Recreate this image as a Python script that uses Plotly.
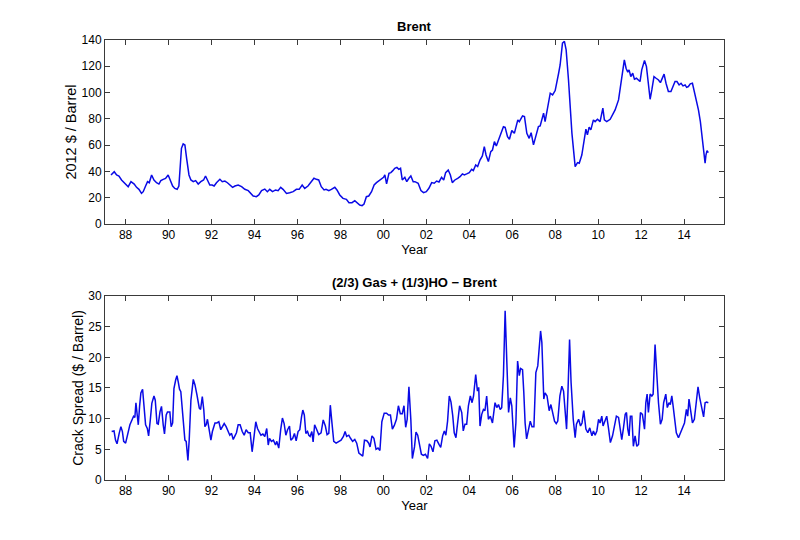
import plotly.graph_objects as go

# ---- Brent (2012 $ / Barrel), vertices (decimal year, value)
brent_year = [
    1987.32, 1987.47, 1987.58, 1987.69, 1987.81, 1987.94, 1988.12, 1988.25, 1988.40, 1988.51,
    1988.62, 1988.74, 1988.82, 1988.93, 1989.02, 1989.10, 1989.21, 1989.32, 1989.44, 1989.55,
    1989.64, 1989.75, 1989.86, 1989.98, 1990.08, 1990.19, 1990.29, 1990.40, 1990.48, 1990.60,
    1990.68, 1990.76, 1990.84, 1990.95, 1991.04, 1991.15, 1991.26, 1991.38, 1991.50, 1991.63,
    1991.72, 1991.81, 1991.92, 1992.03, 1992.12, 1992.23, 1992.39, 1992.50, 1992.62, 1992.74,
    1992.85, 1992.98, 1993.09, 1993.24, 1993.40, 1993.55, 1993.71, 1993.83, 1993.94, 1994.09,
    1994.20, 1994.33, 1994.48, 1994.60, 1994.71, 1994.84, 1994.98, 1995.10, 1995.22, 1995.33,
    1995.49, 1995.64, 1995.80, 1995.95, 1996.08, 1996.22, 1996.34, 1996.49, 1996.65, 1996.77,
    1996.88, 1996.99, 1997.11, 1997.24, 1997.33, 1997.46, 1997.58, 1997.74, 1997.84, 1997.97,
    1998.12, 1998.28, 1998.40, 1998.54, 1998.67, 1998.79, 1998.90, 1999.01, 1999.10, 1999.21,
    1999.32, 1999.45, 1999.57, 1999.68, 1999.79, 1999.91, 2000.01, 2000.07, 2000.15, 2000.26,
    2000.35, 2000.44, 2000.53, 2000.63, 2000.72, 2000.80, 2000.88, 2001.00, 2001.09, 2001.19,
    2001.28, 2001.39, 2001.47, 2001.62, 2001.75, 2001.87, 2002.00, 2002.12, 2002.25, 2002.37,
    2002.48, 2002.59, 2002.71, 2002.81, 2002.90, 2003.02, 2003.12, 2003.21, 2003.33, 2003.46,
    2003.57, 2003.68, 2003.77, 2003.88, 2004.00, 2004.11, 2004.19, 2004.30, 2004.39, 2004.50,
    2004.61, 2004.70, 2004.78, 2004.89, 2005.00, 2005.08, 2005.17, 2005.26, 2005.36, 2005.48,
    2005.59, 2005.67, 2005.78, 2005.87, 2005.98, 2006.10, 2006.26, 2006.33, 2006.48, 2006.57,
    2006.68, 2006.79, 2006.88, 2006.99, 2007.10, 2007.22, 2007.30, 2007.46, 2007.53, 2007.66,
    2007.77, 2007.88, 2008.00, 2008.16, 2008.23, 2008.34, 2008.43, 2008.51, 2008.62, 2008.78,
    2008.93, 2009.04, 2009.12, 2009.24, 2009.33, 2009.43, 2009.50, 2009.58, 2009.66, 2009.78,
    2009.86, 2009.97, 2010.09, 2010.22, 2010.29, 2010.40, 2010.56, 2010.68, 2010.79, 2010.95,
    2011.05, 2011.13, 2011.22, 2011.30, 2011.38, 2011.44, 2011.52, 2011.61, 2011.69, 2011.78,
    2011.88, 2011.95, 2012.03, 2012.16, 2012.25, 2012.34, 2012.42, 2012.50, 2012.60, 2012.70,
    2012.81, 2012.90, 2013.00, 2013.07, 2013.16, 2013.27, 2013.39, 2013.47, 2013.58, 2013.67,
    2013.77, 2013.86, 2013.95, 2014.05, 2014.12, 2014.20, 2014.29, 2014.39, 2014.48, 2014.59,
    2014.67, 2014.76, 2014.85, 2014.91, 2014.98, 2015.02, 2015.07, 2015.13,
]
brent_price = [
    37.3, 39.8, 37.3, 36.5, 33.5, 31.4, 28.4, 32.2, 30.4, 27.9,
    26.4, 23.3, 24.6, 28.9, 32.2, 31.4, 37.3, 33.5, 31.4, 30.4,
    33.0, 34.0, 34.7, 37.3, 33.5, 28.9, 27.1, 26.4, 28.9, 57.6,
    60.9, 60.1, 50.0, 37.3, 33.5, 32.2, 33.0, 30.4, 32.2, 33.5,
    36.5, 33.5, 29.7, 29.7, 28.9, 31.4, 34.0, 32.2, 32.7, 31.4,
    29.7, 27.9, 28.9, 29.7, 28.4, 26.4, 25.4, 23.3, 21.3, 20.8,
    22.1, 25.4, 26.6, 24.6, 26.4, 24.6, 25.9, 25.4, 27.9, 26.4,
    23.3, 23.8, 24.6, 26.4, 26.4, 29.7, 27.1, 28.9, 32.2, 34.8,
    34.0, 33.5, 28.4, 25.9, 26.4, 25.4, 26.4, 27.9, 25.9, 22.1,
    19.5, 18.8, 16.2, 16.2, 17.8, 15.7, 14.5, 14.0, 15.2, 20.8,
    21.3, 24.6, 29.7, 31.5, 33.0, 34.0, 35.5, 37.3, 30.5, 38.6,
    39.1, 40.6, 42.4, 43.1, 41.6, 42.4, 33.5, 35.5, 32.2, 34.8,
    36.5, 32.2, 32.2, 31.0, 25.4, 23.9, 24.6, 27.2, 31.5, 31.0,
    32.7, 32.0, 35.5, 33.5, 39.1, 41.1, 37.3, 31.5, 33.5, 34.8,
    36.0, 38.1, 37.3, 38.1, 39.1, 41.6, 40.6, 44.9, 43.7, 48.7,
    51.8, 58.9, 52.5, 47.5, 55.1, 56.3, 62.7, 59.4, 64.0, 69.0,
    74.1, 73.6, 66.5, 64.5, 71.1, 69.0, 79.2, 77.9, 82.2, 81.7,
    69.0, 65.2, 69.5, 60.2, 67.8, 74.1, 74.6, 84.3, 77.9, 88.1,
    99.5, 98.2, 101.5, 114.7, 121.0, 137.6, 139.0, 132.5, 109.6, 69.0,
    43.7, 46.7, 46.2, 52.5, 61.4, 72.1, 67.8, 73.6, 71.6, 79.2,
    77.9, 79.7, 77.9, 88.1, 79.2, 77.9, 79.7, 83.0, 86.8, 94.4,
    104.6, 116.0, 124.9, 118.5, 115.5, 117.3, 112.2, 114.7, 110.2, 110.9,
    109.1, 108.4, 117.3, 124.4, 119.8, 107.1, 94.9, 102.0, 112.2, 110.9,
    109.6, 107.6, 111.7, 114.0, 107.1, 100.8, 100.8, 104.6, 108.4, 108.4,
    105.8, 107.1, 105.1, 105.8, 104.0, 104.6, 106.6, 107.1, 100.8, 93.1,
    86.8, 77.9, 64.0, 53.8, 46.2, 52.5, 55.8, 54.3,
]

# ---- Crack spread (2/3 Gas + 1/3 HO - Brent), $ / Barrel
crack_year = [
    1987.35, 1987.46, 1987.53, 1987.60, 1987.70, 1987.78, 1987.85, 1987.91, 1988.00, 1988.10,
    1988.20, 1988.31, 1988.37, 1988.43, 1988.48, 1988.54, 1988.59, 1988.65, 1988.71, 1988.79,
    1988.85, 1988.93, 1989.01, 1989.07, 1989.15, 1989.22, 1989.32, 1989.38, 1989.46, 1989.52,
    1989.60, 1989.67, 1989.75, 1989.81, 1989.89, 1989.95, 1990.06, 1990.12, 1990.19, 1990.25,
    1990.33, 1990.39, 1990.45, 1990.51, 1990.57, 1990.64, 1990.70, 1990.76, 1990.82, 1990.90,
    1990.96, 1991.04, 1991.15, 1991.23, 1991.32, 1991.43, 1991.49, 1991.57, 1991.64, 1991.69,
    1991.75, 1991.81, 1991.88, 1991.97, 1992.04, 1992.16, 1992.25, 1992.34, 1992.43, 1992.50,
    1992.59, 1992.68, 1992.78, 1992.85, 1992.93, 1993.01, 1993.09, 1993.16, 1993.24, 1993.33,
    1993.43, 1993.52, 1993.61, 1993.71, 1993.80, 1993.89, 1993.98, 1994.06, 1994.14, 1994.22,
    1994.30, 1994.39, 1994.48, 1994.57, 1994.64, 1994.70, 1994.79, 1994.88, 1994.98, 1995.04,
    1995.13, 1995.22, 1995.30, 1995.38, 1995.46, 1995.54, 1995.63, 1995.69, 1995.78, 1995.86,
    1995.94, 1996.03, 1996.11, 1996.19, 1996.25, 1996.32, 1996.39, 1996.47, 1996.53, 1996.59,
    1996.67, 1996.73, 1996.80, 1996.90, 1996.99, 1997.10, 1997.20, 1997.30, 1997.38, 1997.46,
    1997.53, 1997.61, 1997.69, 1997.80, 1997.92, 1998.03, 1998.14, 1998.22, 1998.29, 1998.39,
    1998.47, 1998.57, 1998.67, 1998.76, 1998.86, 1998.95, 1999.04, 1999.12, 1999.23, 1999.32,
    1999.38, 1999.47, 1999.56, 1999.66, 1999.75, 1999.84, 1999.93, 2000.04, 2000.15, 2000.24,
    2000.33, 2000.42, 2000.51, 2000.61, 2000.70, 2000.79, 2000.88, 2000.96, 2001.04, 2001.11,
    2001.19, 2001.28, 2001.35, 2001.45, 2001.52, 2001.60, 2001.68, 2001.77, 2001.86, 2001.96,
    2002.06, 2002.14, 2002.22, 2002.31, 2002.40, 2002.49, 2002.59, 2002.67, 2002.76, 2002.84,
    2002.91, 2002.99, 2003.07, 2003.15, 2003.23, 2003.30, 2003.38, 2003.46, 2003.55, 2003.65,
    2003.72, 2003.80, 2003.88, 2003.96, 2004.05, 2004.13, 2004.20, 2004.30, 2004.38, 2004.44,
    2004.50, 2004.58, 2004.66, 2004.73, 2004.81, 2004.89, 2004.98, 2005.08, 2005.14, 2005.20,
    2005.28, 2005.36, 2005.44, 2005.51, 2005.59, 2005.67, 2005.75, 2005.83, 2005.91, 2005.98,
    2006.09, 2006.17, 2006.25, 2006.33, 2006.39, 2006.48, 2006.54, 2006.60, 2006.67, 2006.76,
    2006.84, 2006.92, 2007.01, 2007.10, 2007.19, 2007.32, 2007.38, 2007.47, 2007.53, 2007.62,
    2007.72, 2007.80, 2007.89, 2007.97, 2008.05, 2008.12, 2008.22, 2008.31, 2008.39, 2008.47,
    2008.53, 2008.59, 2008.67, 2008.74, 2008.84, 2008.93, 2008.99, 2009.09, 2009.18, 2009.25,
    2009.33, 2009.43, 2009.52, 2009.61, 2009.71, 2009.78, 2009.86, 2009.94, 2010.02, 2010.09,
    2010.17, 2010.23, 2010.33, 2010.40, 2010.48, 2010.57, 2010.67, 2010.76, 2010.85, 2010.95,
    2011.02, 2011.10, 2011.18, 2011.26, 2011.32, 2011.38, 2011.44, 2011.50, 2011.57, 2011.64,
    2011.72, 2011.80, 2011.88, 2011.97, 2012.06, 2012.16, 2012.22, 2012.28, 2012.34, 2012.42,
    2012.50, 2012.56, 2012.65, 2012.74, 2012.81, 2012.90, 2012.98, 2013.05, 2013.15, 2013.22,
    2013.30, 2013.36, 2013.43, 2013.49, 2013.55, 2013.64, 2013.74, 2013.83, 2013.92, 2014.02,
    2014.11, 2014.17, 2014.23, 2014.30, 2014.39, 2014.48, 2014.57, 2014.65, 2014.73, 2014.82,
    2014.91, 2014.98, 2015.05, 2015.13,
]
crack_spread = [
    7.9, 8.0, 6.5, 5.9, 7.6, 8.7, 7.9, 6.3, 6.0, 7.3,
    9.0, 9.9, 10.4, 10.2, 12.6, 10.6, 9.0, 12.0, 14.2, 14.8,
    12.0, 9.0, 8.4, 7.2, 9.8, 12.5, 13.7, 13.0, 9.2, 9.1,
    11.1, 12.0, 9.0, 7.5, 10.6, 11.1, 11.1, 8.7, 9.3, 14.9,
    16.3, 17.0, 16.0, 14.8, 14.4, 11.4, 8.7, 6.5, 6.3, 3.2,
    6.5, 13.0, 16.4, 15.5, 13.9, 11.7, 11.5, 13.6, 11.4, 8.7,
    9.0, 9.9, 8.4, 6.5, 7.9, 9.3, 9.3, 9.5, 8.2, 8.7,
    9.2, 8.7, 8.0, 7.3, 7.6, 6.6, 7.2, 7.7, 9.0, 9.0,
    7.9, 7.3, 8.2, 7.7, 7.7, 4.6, 7.1, 9.5, 8.4, 7.9,
    7.3, 7.5, 7.1, 8.4, 5.7, 6.8, 6.3, 6.5, 5.7, 6.3,
    5.2, 8.2, 10.1, 9.2, 7.3, 8.2, 8.8, 6.5, 6.8, 7.6,
    6.4, 7.9, 8.2, 10.3, 11.4, 10.6, 7.6, 7.9, 7.3, 7.1,
    7.9, 6.2, 9.0, 8.2, 7.4, 7.7, 9.8, 8.8, 7.4, 7.6,
    12.2, 9.2, 6.3, 6.0, 6.3, 6.5, 7.1, 7.9, 7.1, 7.3,
    6.8, 6.3, 6.6, 6.0, 4.4, 4.2, 3.9, 6.5, 6.4, 6.0,
    5.4, 7.2, 6.8, 5.0, 5.2, 4.8, 9.5, 10.9, 10.9, 10.6,
    10.6, 8.3, 8.9, 9.9, 12.1, 10.8, 10.8, 12.1, 8.6, 9.9,
    15.2, 9.8, 3.5, 5.4, 7.8, 7.3, 6.0, 4.2, 4.0, 4.2,
    3.5, 5.9, 5.5, 4.6, 6.4, 6.5, 5.8, 5.3, 7.2, 8.0,
    7.3, 9.6, 13.7, 12.7, 10.5, 7.7, 6.9, 9.3, 12.1, 11.0,
    8.0, 9.1, 9.1, 12.1, 13.7, 12.6, 13.7, 17.2, 14.5, 15.1,
    8.8, 10.7, 11.5, 11.3, 13.7, 9.9, 10.4, 9.3, 11.5, 12.6,
    11.8, 12.3, 11.5, 11.8, 17.0, 27.6, 19.1, 11.0, 13.4, 12.1,
    5.3, 9.3, 19.4, 17.0, 18.2, 18.0, 14.2, 9.3, 6.7, 8.3,
    9.6, 8.7, 8.7, 17.5, 18.6, 24.3, 22.4, 13.2, 14.2, 13.7,
    11.3, 12.3, 11.0, 9.6, 9.2, 9.6, 13.7, 15.3, 14.5, 11.0,
    8.3, 13.7, 22.9, 15.9, 9.9, 6.9, 9.1, 9.9, 8.8, 9.3,
    11.3, 8.3, 7.7, 8.5, 7.2, 8.0, 7.3, 8.0, 9.9, 9.3,
    10.4, 8.8, 9.9, 10.4, 8.5, 6.1, 7.2, 9.1, 10.4, 10.2,
    8.5, 6.6, 8.5, 10.7, 11.0, 8.3, 7.2, 10.4, 10.4, 5.5,
    7.2, 5.5, 5.8, 11.0, 10.7, 8.3, 12.6, 14.0, 11.0, 14.0,
    13.7, 14.0, 22.1, 16.4, 12.6, 9.1, 9.9, 12.6, 14.0, 11.8,
    12.6, 12.3, 13.7, 12.1, 9.9, 7.7, 6.9, 7.6, 8.3, 9.3,
    11.5, 10.4, 13.2, 11.5, 9.3, 9.9, 13.2, 15.2, 13.4, 12.1,
    10.3, 12.6, 12.7, 12.6,
]

tick_years = [1988, 1990, 1992, 1994, 1996, 1998, 2000, 2002, 2004, 2006, 2008, 2010, 2012, 2014]
tick_labels = ["88", "90", "92", "94", "96", "98", "00", "02", "04", "06", "08", "10", "12", "14"]

FONT = "Liberation Sans, Arial, Helvetica, sans-serif"
LINE = "rgb(10,10,230)"
AXC = "#3a3a3a"

fig = go.Figure()
fig.add_trace(go.Scatter(x=brent_year, y=brent_price, mode="lines",
                         line=dict(color=LINE, width=1.5), xaxis="x", yaxis="y",
                         showlegend=False))
fig.add_trace(go.Scatter(x=crack_year, y=crack_spread, mode="lines",
                         line=dict(color=LINE, width=1.5), xaxis="x2", yaxis="y2",
                         showlegend=False))

xcommon = dict(range=[1987.04, 2015.86], tickvals=tick_years, ticktext=tick_labels,
               ticks="inside", ticklen=5, tickcolor=AXC, showline=True, linecolor=AXC,
               linewidth=1, mirror="allticks", showgrid=False, zeroline=False,
               tickfont=dict(size=12, color="black", family=FONT),
               title=dict(text="Year", font=dict(size=13, color="black", family=FONT), standoff=0))
ycommon = dict(ticks="inside", ticklen=5, tickcolor=AXC, showline=True, linecolor=AXC,
               linewidth=1, mirror="allticks", showgrid=False, zeroline=False,
               tickfont=dict(size=12, color="black", family=FONT))

fig.update_layout(
    width=800, height=540,
    margin=dict(l=105, r=76, t=40, b=60),
    paper_bgcolor="white", plot_bgcolor="white",
    font=dict(family=FONT, color="black"),
    xaxis=dict(**xcommon, anchor="y"),
    xaxis2=dict(**xcommon, anchor="y2"),
    yaxis=dict(**ycommon, domain=[0.5818, 1.0], range=[0, 140], dtick=20, anchor="x",
               title=dict(text="2012 $ / Barrel", font=dict(size=14.5, family=FONT), standoff=1)),
    yaxis2=dict(**ycommon, domain=[0.0, 0.4182], range=[0, 30], dtick=5, anchor="x2",
                title=dict(text="Crack Spread ($ / Barrel)", font=dict(size=14, family=FONT), standoff=1)),
    annotations=[
        dict(text="<b>Brent</b>", xref="paper", yref="paper", x=0.5, y=1.0,
             xanchor="center", yanchor="bottom", yshift=4, showarrow=False,
             font=dict(size=13, family=FONT, color="black")),
        dict(text="<b>(2/3) Gas + (1/3)HO \u2212 Brent</b>", xref="paper", yref="paper",
             x=0.5, y=0.4182, xanchor="center", yanchor="bottom", yshift=4, showarrow=False,
             font=dict(size=13, family=FONT, color="black")),
    ],
)

fig.write_html("out.html")
